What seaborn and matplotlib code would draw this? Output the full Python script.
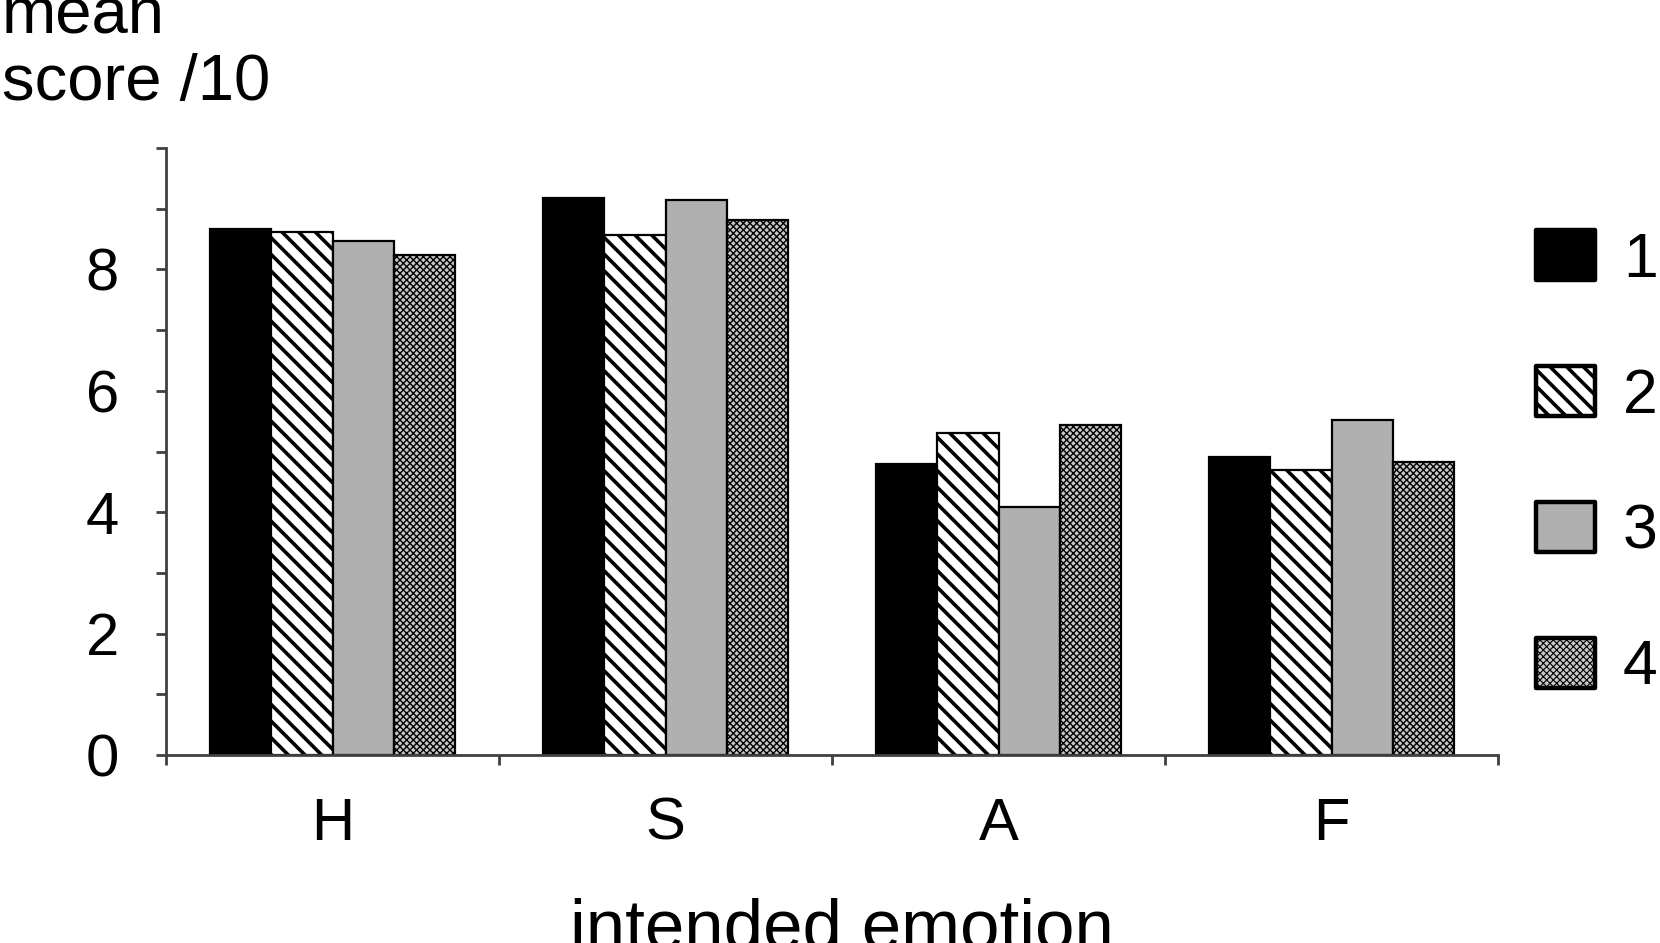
import pandas as pd
import matplotlib.pyplot as plt
import seaborn as sns
from matplotlib.ticker import FixedLocator

# values
emotions = ["H", "S", "A", "F"]
groups = ["1", "2", "3", "4"]
score_1 = [8.67, 9.18, 4.80, 4.91]
score_2 = [8.61, 8.57, 5.30, 4.69]
score_3 = [8.46, 9.15, 4.08, 5.52]
score_4 = [8.23, 8.81, 5.44, 4.83]

sns.set_style("white")
plt.rcParams["font.family"] = ["Liberation Sans", "DejaVu Sans"]
plt.rcParams["text.color"] = "black"
plt.rcParams["xtick.labelcolor"] = "black"
plt.rcParams["ytick.labelcolor"] = "black"
plt.rcParams["hatch.linewidth"] = 2.6

rows = []
for g, vals in zip(groups, [score_1, score_2, score_3, score_4]):
    for e, v in zip(emotions, vals):
        rows.append({"emotion": e, "group": g, "score": v})
df = pd.DataFrame(rows)

fig = plt.figure(figsize=(16.6, 9.43), dpi=100)
ax = fig.add_axes([166 / 1660, 188 / 943, 1332 / 1660, 607 / 943])

palette = {"1": "black", "2": "white", "3": "#b0b0b0", "4": "#c8c8c8"}
sns.barplot(data=df, x="emotion", y="score", hue="group", order=emotions,
            hue_order=groups, palette=palette, width=0.734, edgecolor="black",
            linewidth=1.6, saturation=1, legend=False, ax=ax)

hatches = [None, "\\\\", None, "xxxxx"]
for cont, h in zip(ax.containers, hatches):
    for p in cont.patches:
        if h:
            p.set_hatch(h)
        if h == "xxxxx" and hasattr(p, "set_hatch_linewidth"):
            p.set_hatch_linewidth(1.0)

ax.set_xlim(-0.5, 3.5)
ax.set_ylim(0, 10)
sns.despine(ax=ax)
for s in ["left", "bottom"]:
    ax.spines[s].set_color("#404040")
    ax.spines[s].set_linewidth(2)

ax.yaxis.set_major_locator(FixedLocator([0, 2, 4, 6, 8]))
ax.yaxis.set_minor_locator(FixedLocator([1, 3, 5, 7, 9, 10]))
ax.xaxis.set_minor_locator(FixedLocator([-0.5, 0.5, 1.5, 2.5, 3.5]))
ax.tick_params(axis="y", which="both", direction="out", length=7, width=2,
               color="#404040", left=True)
ax.tick_params(axis="y", which="major", labelsize=43, pad=27)
ax.tick_params(axis="x", which="major", length=0, labelsize=43, pad=30)
ax.tick_params(axis="x", which="minor", direction="out", length=7, width=2,
               color="#404040", bottom=True)
ax.set_xlabel("")
ax.set_ylabel("")

fig.text(2 / 1660, 1 - 33 / 943, "mean", fontsize=47, ha="left", va="baseline")
fig.text(2 / 1660, 1 - 100 / 943, "score /10", fontsize=47, ha="left", va="baseline")
fig.text(842 / 1660, -0.006, "intended emotion", fontsize=51, ha="center", va="baseline")

handles = [c.patches[0] for c in ax.containers]
leg = ax.legend(handles, groups, loc="center left", bbox_to_anchor=(1536 / 1660, 0.508),
                bbox_transform=fig.transFigure, frameon=False, fontsize=45,
                handlelength=0.94, handleheight=0.85, handletextpad=0.45,
                labelspacing=1.22, borderpad=0, borderaxespad=0)
for i, p in enumerate(leg.get_patches()):
    p.set_linewidth(3.2)
    p.set_joinstyle("round")
    if i == 3 and hasattr(p, "set_hatch_linewidth"):
        p.set_hatch_linewidth(0.8)

fig.savefig("out.png", dpi=100)
